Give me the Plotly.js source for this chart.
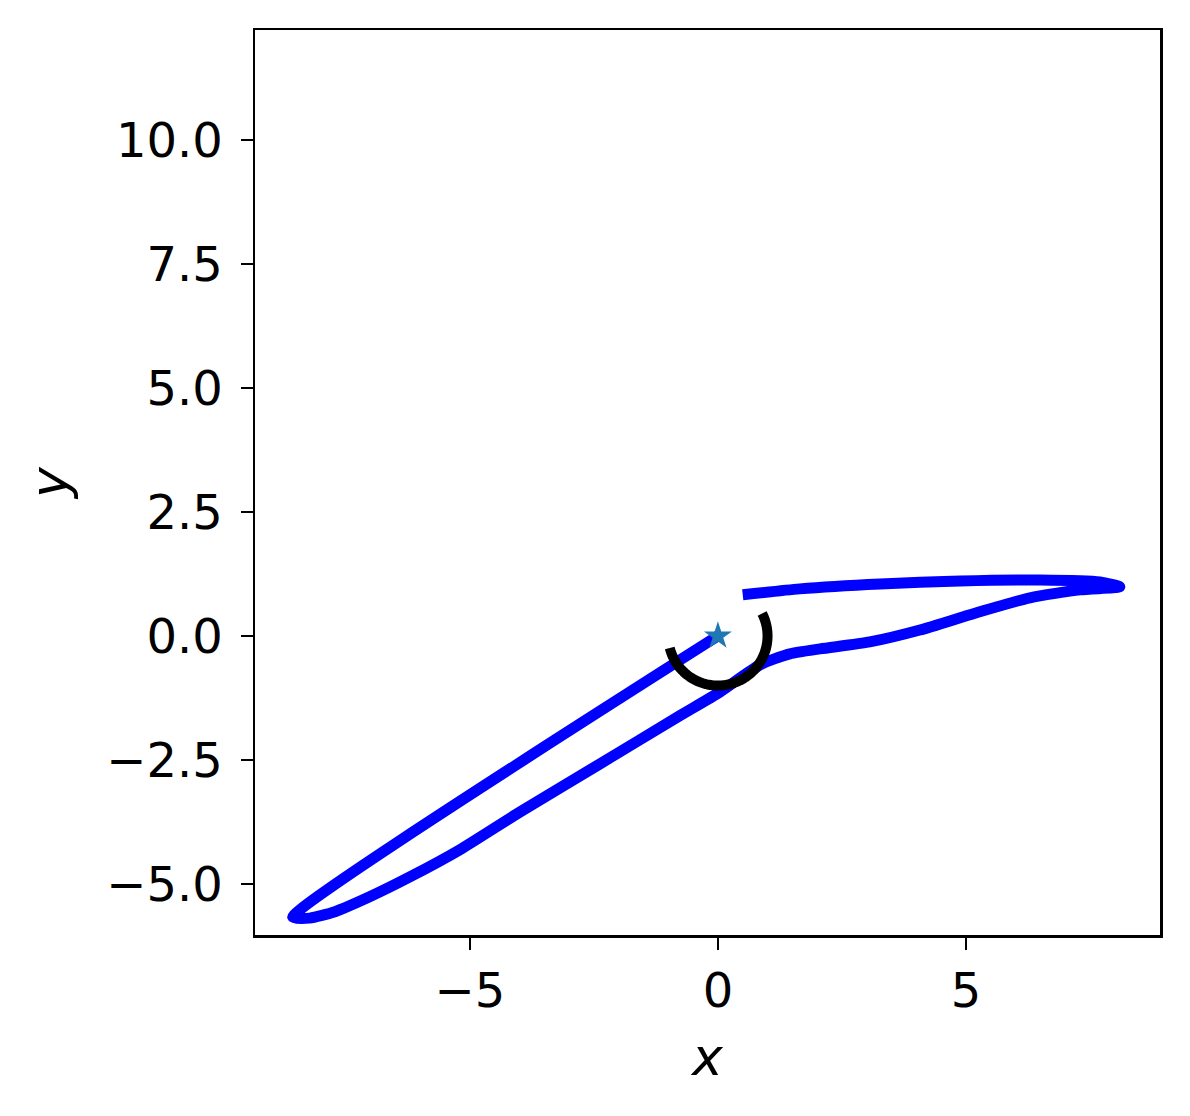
<!DOCTYPE html>
<html>
<head>
<meta charset="utf-8">
<script src="https://cdn.plot.ly/plotly-3.0.1.min.js"></script>
<style>html,body{margin:0;padding:0;background:#fff;}</style>
</head>
<body>
<div id="chart" style="width:1190px;height:1116px;"></div>
<script>
// Trajectory (blue)
const trajX = [0.0, -8.57, -8.23, -7.72, -7.02, -6.21, -5.20, -3.99, -2.38, -0.77, 0.04, 0.85, 1.45, 2.06, 3.06, 4.07, 5.18, 6.29, 7.30, 8.10, 7.70, 6.49, 4.88, 3.27, 1.65, 0.50];
const trajY = [0.0, -5.67, -5.69, -5.56, -5.26, -4.86, -4.31, -3.55, -2.58, -1.61, -1.13, -0.58, -0.36, -0.26, -0.12, 0.12, 0.46, 0.77, 0.93, 0.99, 1.09, 1.13, 1.11, 1.05, 0.95, 0.83];
// Start point (star)
const startX = [0];
const startY = [0];
// Arc (black): center, radius, start/end angles in degrees
const arcCenter = [0, 0];
const arcRadius = 1.0;
const arcAngles = [27, -166];
// Ticks
const xTickVals = [-5, 0, 5];
const xTickText = ["\u22125", "0", "5"];
const yTickVals = [-5, -2.5, 0, 2.5, 5, 7.5, 10];
const yTickText = ["\u22125.0", "\u22122.5", "0.0", "2.5", "5.0", "7.5", "10.0"];

const arcX = [], arcY = [];
const nArc = 120;
for (let i = 0; i <= nArc; i++) {
  const a = (arcAngles[0] + (arcAngles[1] - arcAngles[0]) * i / nArc) * Math.PI / 180;
  arcX.push(arcCenter[0] + arcRadius * Math.cos(a));
  arcY.push(arcCenter[1] + arcRadius * Math.sin(a));
}

const data = [
  {x: trajX, y: trajY, mode: "lines", line: {color: "#0000ff", width: 11, shape: "spline", smoothing: 0.6}, hoverinfo: "skip"},
  {x: arcX, y: arcY, mode: "lines", line: {color: "#000000", width: 10, shape: "spline"}, hoverinfo: "skip"},
  {x: startX, y: startY, mode: "markers", marker: {symbol: "star", size: 21, color: "#1f77b4"}, hoverinfo: "skip"}
];
const axisCommon = {
  showgrid: false, zeroline: false, showline: true, mirror: true,
  linecolor: "#000", linewidth: 2.5, ticks: "outside", ticklen: 12, tickwidth: 2.5,
  tickcolor: "#000", tickfont: {family: "DejaVu Sans", size: 48, color: "#000"}
};
const layout = {
  width: 1190, height: 1116,
  margin: {l: 255, r: 30, t: 30, b: 181},
  paper_bgcolor: "#fff", plot_bgcolor: "#fff",
  showlegend: false,
  xaxis: Object.assign({}, axisCommon, {
    range: [-9.33, 8.91], tickvals: xTickVals, ticktext: xTickText,
    title: {text: "<i>x</i>", font: {family: "DejaVu Sans", size: 52, color: "#000"}, standoff: 22}
  }),
  yaxis: Object.assign({}, axisCommon, {
    range: [-6.03, 12.22], tickvals: yTickVals, ticktext: yTickText,
    ticklabelstandoff: 8,
    title: {text: "<i>y</i>", font: {family: "DejaVu Sans", size: 52, color: "#000"}, standoff: 22}
  })
};
Plotly.newPlot("chart", data, layout, {staticPlot: true, displayModeBar: false});
</script>
</body>
</html>
